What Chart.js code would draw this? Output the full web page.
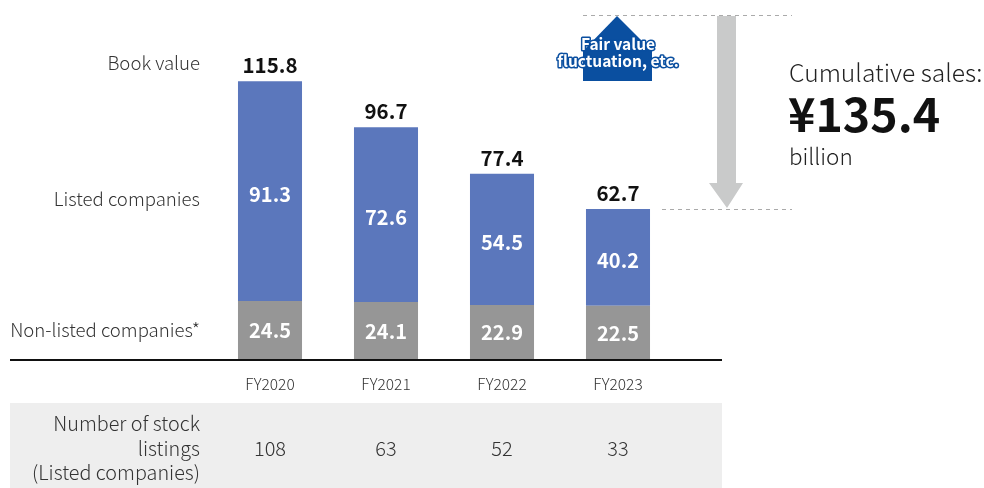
<!DOCTYPE html>
<html>
<head>
<meta charset="utf-8">
<script src="https://cdn.jsdelivr.net/npm/chart.js@4/dist/chart.umd.min.js"></script>
<style>
html,body{margin:0;padding:0;background:#fff;}
#wrap{width:984px;height:488px;position:relative;}
</style>
</head>
<body>
<div id="wrap"><canvas id="c"></canvas></div>
<script>
const categories = ['FY2020', 'FY2021', 'FY2022', 'FY2023'];
const nonListed = [24.5, 24.1, 22.9, 22.5];
const listed = [91.3, 72.6, 54.5, 40.2];
const bookValue = [115.8, 96.7, 77.4, 62.7];
const stockListings = [108, 63, 52, 33];
const cumulativeSales = '¥135.4';

const FONT = '"Noto Sans CJK JP", "Noto Sans", sans-serif';
const BLUE = '#5b77bc';
const GRAY = '#969696';

const deco = {
  id: 'deco',
  beforeDatasetsDraw(chart) {
    const ctx = chart.ctx;
    ctx.save();
    ctx.fillStyle = '#eeeeee';
    ctx.fillRect(10, 403, 712, 85);
    ctx.restore();
  },
  afterDatasetsDraw(chart) {
    const ctx = chart.ctx;
    const xs = chart.scales.x, ys = chart.scales.y;
    ctx.save();
    // baseline
    ctx.strokeStyle = '#111';
    ctx.lineWidth = 2;
    ctx.beginPath();
    ctx.moveTo(10, ys.getPixelForValue(0));
    ctx.lineTo(722, ys.getPixelForValue(0));
    ctx.stroke();

    // left labels
    ctx.fillStyle = '#333';
    ctx.textAlign = 'right';
    ctx.textBaseline = 'middle';
    ctx.font = '300 18.6px ' + FONT;
    ctx.fillText('Book value', 200, 63);
    ctx.fillText('Listed companies', 200, 199);
    ctx.fillText('Non-listed companies*', 200, 330);

    // segment labels
    const meta0 = chart.getDatasetMeta(0), meta1 = chart.getDatasetMeta(1);
    ctx.textAlign = 'center';
    ctx.font = 'bold 20px ' + FONT;
    ctx.fillStyle = '#fff';
    categories.forEach((c, i) => {
      const b0 = meta0.data[i], b1 = meta1.data[i];
      ctx.fillText(nonListed[i].toFixed(1), b0.x, (b0.y + b0.base) / 2);
      ctx.fillText(listed[i].toFixed(1), b1.x, (b1.y + b1.base) / 2 + 3);
    });
    // totals
    ctx.fillStyle = '#111';
    ctx.font = 'bold 20.5px ' + FONT;
    ctx.textBaseline = 'alphabetic';
    categories.forEach((c, i) => {
      const px = xs.getPixelForValue(i);
      ctx.fillText(bookValue[i].toFixed(1), px, ys.getPixelForValue(bookValue[i]) - 8);
    });
    // category labels
    ctx.fillStyle = '#333';
    ctx.font = '300 15.5px ' + FONT;
    ctx.textBaseline = 'middle';
    categories.forEach((c, i) => {
      ctx.fillText(c, xs.getPixelForValue(i), 384);
    });
    // table
    ctx.font = '300 20px ' + FONT;
    categories.forEach((c, i) => {
      ctx.fillText(String(stockListings[i]), xs.getPixelForValue(i), 448);
    });
    ctx.textAlign = 'right';
    ctx.font = '300 19.8px ' + FONT;
    ctx.fillText('Number of stock', 200, 423);
    ctx.fillText('listings', 200, 448);
    ctx.fillText('(Listed companies)', 200, 472);

    // dashed lines
    ctx.strokeStyle = '#aaaaaa';
    ctx.lineWidth = 1;
    ctx.setLineDash([4, 4]);
    ctx.beginPath();
    ctx.moveTo(583, 15.5); ctx.lineTo(792, 15.5);
    ctx.moveTo(662, 209.5); ctx.lineTo(792, 209.5);
    ctx.stroke();
    ctx.setLineDash([]);

    // gray down arrow
    ctx.fillStyle = '#c9caca';
    ctx.beginPath();
    ctx.moveTo(717, 16);
    ctx.lineTo(736, 16);
    ctx.lineTo(736, 183);
    ctx.lineTo(743, 183);
    ctx.lineTo(727, 208);
    ctx.lineTo(709, 183);
    ctx.lineTo(717, 183);
    ctx.closePath();
    ctx.fill();

    // blue house arrow
    ctx.fillStyle = '#0a4fa0';
    ctx.beginPath();
    ctx.moveTo(617, 16);
    ctx.lineTo(652, 51);
    ctx.lineTo(652, 81);
    ctx.lineTo(583, 81);
    ctx.lineTo(583, 51);
    ctx.closePath();
    ctx.fill();
    ctx.textAlign = 'center';
    ctx.font = 'bold 15.5px ' + FONT;
    ctx.lineJoin = 'round';
    ctx.strokeStyle = '#0a4fa0';
    ctx.lineWidth = 3;
    ctx.strokeText('Fair value', 618, 44);
    ctx.strokeText('fluctuation, etc.', 618, 61);
    ctx.fillStyle = '#fff';
    ctx.fillText('Fair value', 618, 44);
    ctx.fillText('fluctuation, etc.', 618, 61);

    // cumulative sales text
    ctx.textAlign = 'left';
    ctx.fillStyle = '#222';
    ctx.font = '300 24.6px ' + FONT;
    ctx.fillText('Cumulative sales:', 789, 73);
    ctx.font = 'bold 46.5px ' + FONT;
    ctx.fillStyle = '#111';
    ctx.fillText(cumulativeSales, 788, 114);
    ctx.fillStyle = '#222';
    ctx.font = '300 22.5px ' + FONT;
    ctx.fillText('billion', 789, 156);
    ctx.restore();
  }
};

new Chart(document.getElementById('c'), {
  type: 'bar',
  data: {
    labels: categories,
    datasets: [
      { label: 'Non-listed companies', data: nonListed, backgroundColor: GRAY, borderWidth: 0, categoryPercentage: 0.552, barPercentage: 1 },
      { label: 'Listed companies', data: listed, backgroundColor: BLUE, borderWidth: 0, categoryPercentage: 0.552, barPercentage: 1 }
    ]
  },
  options: {
    responsive: true,
    maintainAspectRatio: false,
    animation: false,
    layout: { padding: { left: 212, right: 308, top: 11, bottom: 128 } },
    plugins: { legend: { display: false }, tooltip: { enabled: false } },
    scales: {
      x: { stacked: true, display: false },
      y: { stacked: true, display: false, min: 0, max: 145 }
    }
  },
  plugins: [deco]
});
</script>
</body>
</html>
